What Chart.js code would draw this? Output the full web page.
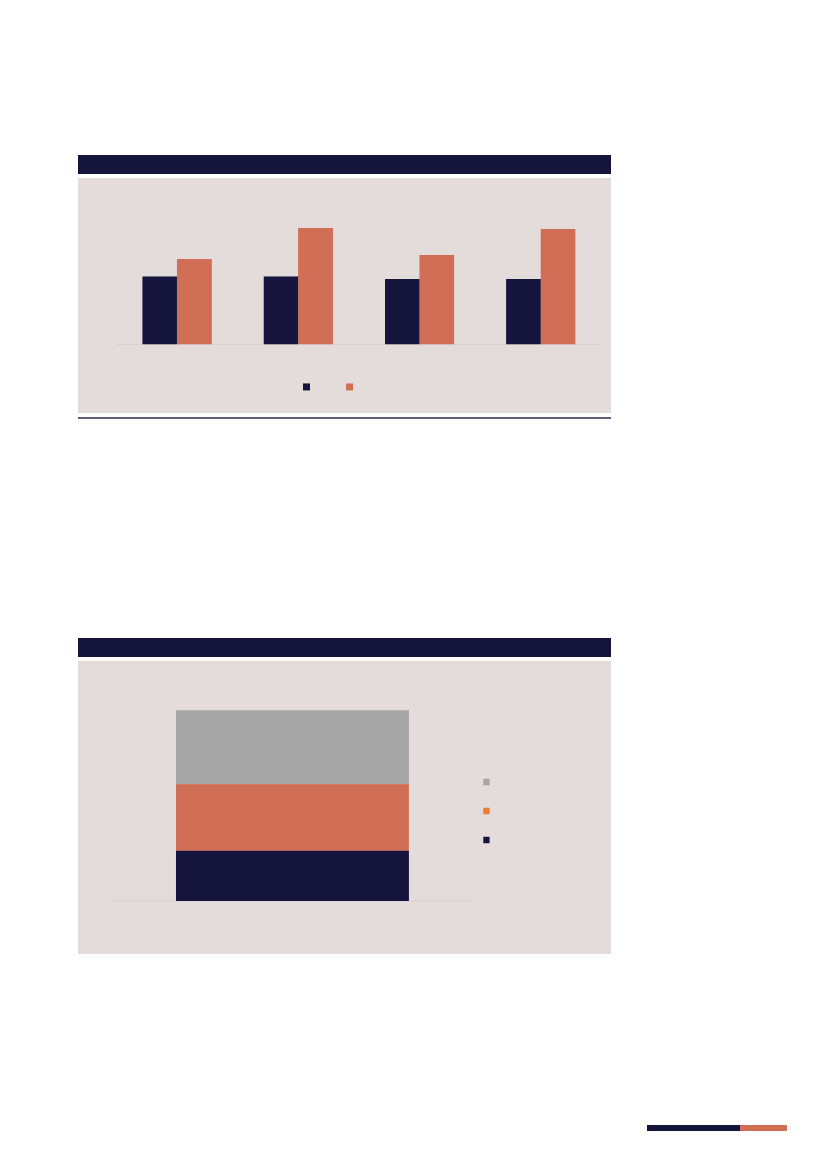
<!DOCTYPE html>
<html>
<head>
<meta charset="utf-8">
<script src="https://cdn.jsdelivr.net/npm/chart.js@4.4.0/dist/chart.umd.min.js"></script>
<style>
  html, body { margin: 0; padding: 0; background: #ffffff; }
  body { position: relative; width: 827px; height: 1169px; overflow: hidden; font-family: 'Noto Sans', sans-serif; }
  .block { position: absolute; }
  .navy { background: #15143c; }
  .panel { background: #e4dcdb; }
  .wrap { position: absolute; }
</style>
</head>
<body>
  <!-- chart 1: grouped bars -->
  <div class="block navy" style="left:78px; top:155px; width:533px; height:19px;"></div>
  <div class="block panel" style="left:78px; top:178px; width:533px; height:235px;"></div>
  <div class="block" style="left:78px; top:417px; width:533px; height:2px; background:#5f5f7c;"></div>
  <div class="wrap" style="left:62.4px; top:190px; width:538.8px; height:213.5px;">
    <canvas id="chart-groups"></canvas>
  </div>

  <!-- chart 2: single stacked bar -->
  <div class="block navy" style="left:78px; top:638px; width:533px; height:19px;"></div>
  <div class="block panel" style="left:78px; top:661px; width:533px; height:293px;"></div>
  <div class="wrap" style="left:78px; top:710px; width:431.1px; height:202px;">
    <canvas id="chart-stack"></canvas>
  </div>

  <!-- footer strip -->
  <div class="block navy" style="left:647px; top:1125px; width:93px; height:6px;"></div>
  <div class="block" style="left:740px; top:1125px; width:47px; height:6px; background:#d06f55;"></div>

<script>
// ---- data (no labels are printed on it) ----
const groupCategories = ['', '', '', ''];
const groupSeriesA = [44, 44, 42.2, 42.2];
const groupSeriesB = [55.2, 75.3, 57.8, 74.7];

const stackCategories = [''];
const stackBottom = [26.3];
const stackMiddle = [34.9];
const stackTop = [38.7];

const NAVY = '#15143c';
const ORANGE = '#d06f55';
const GREY = '#a6a6a6';

document.addEventListener('DOMContentLoaded', () => {

  /* grouped bars */
  new Chart(document.getElementById('chart-groups'), {
    type: 'bar',
    data: {
      labels: groupCategories,
      datasets: [
        { label: '', data: groupSeriesA, backgroundColor: NAVY, categoryPercentage: 0.572, barPercentage: 1 },
        { label: '', data: groupSeriesB, backgroundColor: ORANGE, categoryPercentage: 0.572, barPercentage: 1 }
      ]
    },
    options: {
      responsive: true,
      maintainAspectRatio: false,
      animation: false,
      devicePixelRatio: 2,
      plugins: {
        legend: {
          position: 'bottom',
          labels: { boxWidth: 7, boxHeight: 7, padding: 29, font: { size: 14 } }
        },
        tooltip: { enabled: false }
      },
      scales: {
        x: {
          grid: { display: false },
          border: { color: '#d6d2d2', width: 1 },
          ticks: { display: false },
          afterFit: s => { s.height = 6.5; }
        },
        y: {
          min: 0,
          max: 100,
          grid: { display: false },
          border: { display: false },
          ticks: { display: false },
          afterFit: s => { s.width = 54.4; }
        }
      }
    }
  });

  /* single stacked bar */
  const legendFills = [NAVY, '#ed7d31', GREY]; // legend keys are brighter than the bars
  new Chart(document.getElementById('chart-stack'), {
    type: 'bar',
    data: {
      labels: stackCategories,
      datasets: [
        { label: '', data: stackBottom, backgroundColor: NAVY },
        { label: '', data: stackMiddle, backgroundColor: ORANGE },
        { label: '', data: stackTop, backgroundColor: GREY }
      ]
    },
    options: {
      responsive: true,
      maintainAspectRatio: false,
      animation: false,
      devicePixelRatio: 2,
      datasets: { bar: { categoryPercentage: 0.644, barPercentage: 1 } },
      plugins: {
        legend: {
          position: 'right',
          reverse: true,
          labels: {
            boxWidth: 6.3,
            boxHeight: 6.5,
            padding: 10,
            font: { size: 19 },
            generateLabels: chart => {
              const items = Chart.defaults.plugins.legend.labels.generateLabels(chart);
              items.forEach(it => {
                it.fillStyle = legendFills[it.datasetIndex];
                it.strokeStyle = legendFills[it.datasetIndex];
                it.lineWidth = 0;
              });
              return items;
            }
          }
        },
        tooltip: { enabled: false }
      },
      scales: {
        x: {
          stacked: true,
          grid: { display: false },
          border: { color: '#d6d2d2', width: 1 },
          ticks: { display: false },
          afterFit: s => { s.height = 11; }
        },
        y: {
          stacked: true,
          min: 0,
          max: 100,
          grid: { display: false },
          border: { display: false },
          ticks: { display: false },
          afterFit: s => { s.width = 33.6; }
        }
      }
    }
  });

});
</script>
</body>
</html>
